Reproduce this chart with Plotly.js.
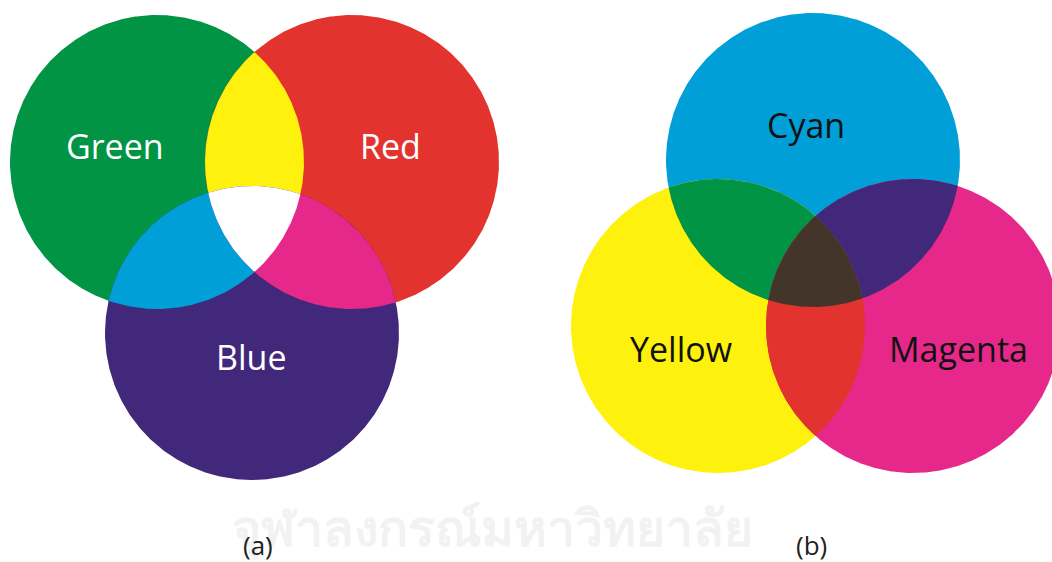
<!DOCTYPE html>
<html><head><meta charset="utf-8">
<script src="https://cdn.plot.ly/plotly-3.0.1.min.js"></script>
<style>html,body{margin:0;padding:0;background:#fff;overflow:hidden}</style>
</head><body><div id="chart" style="width:1052px;height:562px"></div>
<script>
// ---- RGB (additive) panel (a) ----
const rgbNames = ['Green', 'Red', 'Blue'];
const rgbCx = [157, 352, 252];
const rgbCy = [162, 162, 333];
const rgbR = [147, 147, 147];
const rgbColors = ['#009444', '#e3332e', '#42287a'];
const rgbPairs = [[0, 1], [0, 2], [1, 2]];
const rgbPairColors = ['#fff10e', '#009fd8', '#e6288a'];
const rgbCenterColor = '#ffffff';
const rgbLabelX = [115, 390, 251];
const rgbLabelY = [146, 146, 357];

// ---- CMY (subtractive) panel (b) ----
const cmyNames = ['Cyan', 'Yellow', 'Magenta'];
const cmyCx = [813, 718, 913];
const cmyCy = [160, 326, 326];
const cmyR = [147, 147, 147];
const cmyColors = ['#009fd8', '#fff10e', '#e6288a'];
const cmyPairs = [[0, 1], [0, 2], [1, 2]];
const cmyPairColors = ['#009444', '#42287a', '#e3332e'];
const cmyCenterColor = '#44352b';
const cmyLabelX = [806, 681, 958];
const cmyLabelY = [125, 349, 349];

const panelCaptions = ['(a)', '(b)'];
const captionX = [258, 811];
const captionY = [545, 545];
const watermarkText = 'จุฬาลงกรณ์มหาวิทยาลัย';

function regionPolygon(cx, cy, r, idx) {
  const N = 720;
  const xs = [], ys = [];
  idx.forEach(i => {
    for (let k = 0; k < N; k++) {
      const a = 2 * Math.PI * k / N;
      const x = cx[i] + r[i] * Math.cos(a);
      const y = cy[i] + r[i] * Math.sin(a);
      let ok = true;
      idx.forEach(j => {
        if (j !== i) {
          const d = Math.hypot(x - cx[j], y - cy[j]);
          if (d > r[j] + 1e-6) ok = false;
        }
      });
      if (ok) { xs.push(x); ys.push(y); }
    }
  });
  const mx = xs.reduce((s, v) => s + v, 0) / xs.length;
  const my = ys.reduce((s, v) => s + v, 0) / ys.length;
  const order = xs.map((_, k) => k).sort((p, q) =>
    Math.atan2(ys[p] - my, xs[p] - mx) - Math.atan2(ys[q] - my, xs[q] - mx));
  const px = order.map(k => xs[k]); const py = order.map(k => ys[k]);
  px.push(px[0]); py.push(py[0]);
  return {x: px, y: py};
}

function fillTrace(poly, color) {
  return {type: 'scatter', mode: 'lines', x: poly.x, y: poly.y, fill: 'toself',
    fillcolor: color, line: {width: 0, color: color}, hoverinfo: 'skip', showlegend: false};
}

function panelTraces(cx, cy, r, colors, pairs, pairColors, centerColor) {
  const t = [];
  colors.forEach((c, i) => t.push(fillTrace(regionPolygon(cx, cy, r, [i]), c)));
  pairs.forEach((p, k) => t.push(fillTrace(regionPolygon(cx, cy, r, p), pairColors[k])));
  t.push(fillTrace(regionPolygon(cx, cy, r, [0, 1, 2]), centerColor));
  return t;
}

const traces = [].concat(
  panelTraces(rgbCx, rgbCy, rgbR, rgbColors, rgbPairs, rgbPairColors, rgbCenterColor),
  panelTraces(cmyCx, cmyCy, cmyR, cmyColors, cmyPairs, cmyPairColors, cmyCenterColor)
);

const font = '"Open Sans", "Noto Sans", sans-serif';
const annotations = [];
annotations.push({x: 492, y: 530, xref: 'x', yref: 'y', text: '<b>' + watermarkText + '</b>', showarrow: false,
  font: {family: '"DejaVu Sans", "Noto Sans", sans-serif', size: 50, color: '#f2f2f2'}});
rgbNames.forEach((n, i) => annotations.push({x: rgbLabelX[i], y: rgbLabelY[i], xref: 'x', yref: 'y',
  text: n, showarrow: false, font: {family: font, size: 34, color: '#ffffff'}}));
cmyNames.forEach((n, i) => annotations.push({x: cmyLabelX[i], y: cmyLabelY[i], xref: 'x', yref: 'y',
  text: n, showarrow: false, font: {family: font, size: 34, color: '#111111'}}));
panelCaptions.forEach((n, i) => annotations.push({x: captionX[i], y: captionY[i], xref: 'x', yref: 'y',
  text: n, showarrow: false, font: {family: font, size: 26, color: '#222222'}}));

const layout = {
  width: 1052, height: 562,
  margin: {l: 0, r: 0, t: 0, b: 0, pad: 0},
  paper_bgcolor: '#ffffff', plot_bgcolor: '#ffffff',
  xaxis: {range: [0, 1052], visible: false, fixedrange: true},
  yaxis: {range: [562, 0], visible: false, fixedrange: true},
  showlegend: false,
  annotations: annotations
};

Plotly.newPlot('chart', traces, layout, {displayModeBar: false, staticPlot: true});
</script>
</body></html>
